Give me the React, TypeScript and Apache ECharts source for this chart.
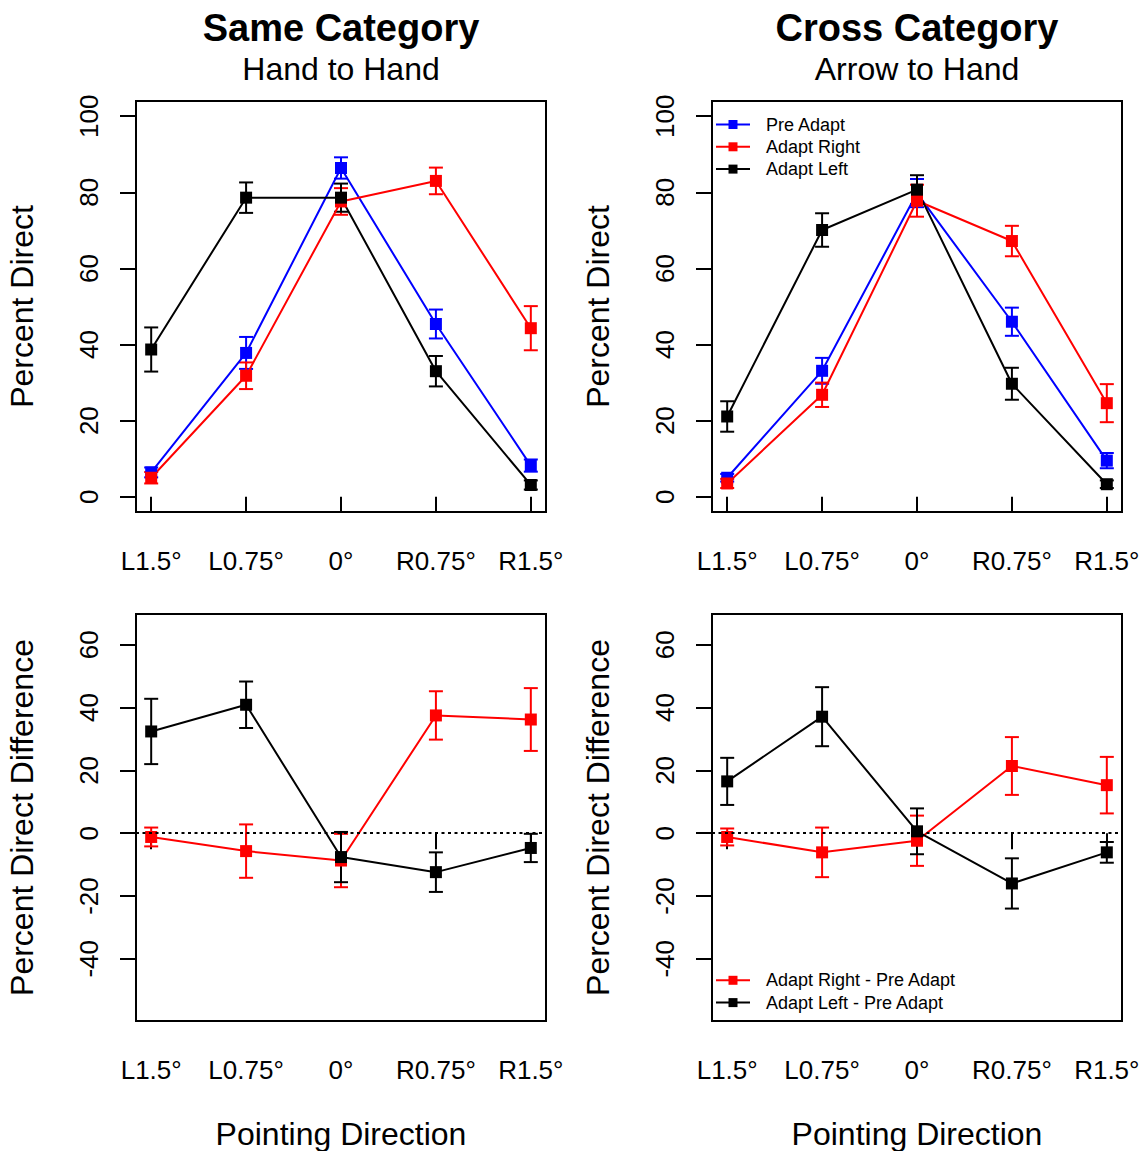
import React, { useEffect, useRef } from "react";
import * as echarts from "echarts";

const categories = ["L1.5°", "L0.75°", "0°", "R0.75°", "R1.5°"];
const xPositions = [1, 2, 3, 4, 5];
const topYTicks = [0, 20, 40, 60, 80, 100];
const bottomYTicks = [-40, -20, 0, 20, 40, 60];

// Same Category (Hand to Hand) — percent direct
const samePre = [6.4, 37.8, 86.4, 45.4, 8.2];
const samePreErr = [1.3, 4.2, 2.8, 3.8, 1.6];
const sameRight = [5.0, 31.8, 77.6, 83.0, 44.3];
const sameRightErr = [1.5, 3.5, 3.5, 3.5, 5.8];
const sameLeft = [38.7, 78.6, 78.6, 33.0, 3.1];
const sameLeftErr = [5.8, 4.0, 3.7, 4.0, 1.2];

// Cross Category (Arrow to Hand) — percent direct
const crossPre = [5.0, 33.1, 79.8, 46.0, 9.5];
const crossPreErr = [1.0, 3.4, 3.7, 3.7, 2.0];
const crossRight = [3.5, 26.8, 77.8, 67.2, 24.6];
const crossRightErr = [1.2, 3.2, 4.2, 4.0, 5.0];
const crossLeft = [21.1, 70.1, 80.7, 29.7, 3.3];
const crossLeftErr = [4.0, 4.4, 3.8, 4.2, 1.0];

// Differences
const sameDiffRight = [-1.2, -5.7, -8.7, 37.5, 36.2];
const sameDiffRightErr = [3.0, 8.5, 8.5, 7.7, 10.0];
const sameDiffLeft = [32.4, 40.9, -7.6, -12.4, -4.7];
const sameDiffLeftErr = [10.4, 7.4, 8.0, 6.3, 4.5];
const crossDiffRight = [-1.2, -6.1, -2.4, 21.4, 15.3];
const crossDiffRightErr = [2.7, 7.9, 8.0, 9.2, 9.0];
const crossDiffLeft = [16.5, 37.1, 0.6, -16.0, -6.1];
const crossDiffLeftErr = [7.5, 9.4, 7.3, 8.0, 3.3];

const BLUE = "#0000FF";
const RED = "#FF0000";
const BLACK = "#000000";
const FONT = "Arial, 'Liberation Sans', Helvetica, sans-serif";

const ptData = (vals: number[]) => xPositions.map((x, i) => [x, vals[i]]);
const errData = (vals: number[], errs: number[]) =>
  xPositions.map((x, i) => [x, vals[i] - errs[i], vals[i] + errs[i]]);

function lineSeries(name: string, vals: number[], color: string, gi: number, extra: any = {}) {
  return {
    type: "line",
    name,
    xAxisIndex: gi,
    yAxisIndex: gi,
    data: ptData(vals),
    symbol: "rect",
    symbolSize: 12,
    showSymbol: true,
    lineStyle: { color, width: 2 },
    itemStyle: { color },
    silent: true,
    ...extra,
  };
}

function errSeries(name: string, vals: number[], errs: number[], color: string, gi: number) {
  return {
    type: "custom",
    name,
    xAxisIndex: gi,
    yAxisIndex: gi,
    data: errData(vals, errs),
    silent: true,
    renderItem: (_params: any, api: any) => {
      const x = api.value(0);
      const lo = api.coord([x, api.value(1)]);
      const hi = api.coord([x, api.value(2)]);
      const w = 7;
      const style = { stroke: color, lineWidth: 2 };
      return {
        type: "group",
        children: [
          { type: "line", shape: { x1: lo[0], y1: lo[1], x2: hi[0], y2: hi[1] }, style },
          { type: "line", shape: { x1: lo[0] - w, y1: lo[1], x2: lo[0] + w, y2: lo[1] }, style },
          { type: "line", shape: { x1: hi[0] - w, y1: hi[1], x2: hi[0] + w, y2: hi[1] }, style },
        ],
      };
    },
  };
}

const grids = [
  { left: 136, top: 101, width: 410, height: 411 },
  { left: 712, top: 101, width: 410, height: 411 },
  { left: 136, top: 614, width: 410, height: 410 },
  { left: 712, top: 614, width: 410, height: 410 },
];

function xAxis(gi: number, withName: boolean) {
  return {
    type: "value",
    gridIndex: gi,
    min: 0.84,
    max: 5.16,
    axisLine: { show: false },
    splitLine: { show: false },
    axisTick: {
      show: true,
      inside: false,
      length: 16,
      customValues: xPositions,
      lineStyle: { color: BLACK, width: 2 },
    },
    axisLabel: {
      show: true,
      customValues: xPositions,
      margin: 36,
      color: BLACK,
      fontSize: 26,
      fontFamily: FONT,
      formatter: (v: number) => categories[Math.round(v) - 1] ?? "",
    },
    name: withName ? "Pointing Direction" : "",
    nameLocation: "middle",
    nameGap: 97,
    nameTextStyle: { color: BLACK, fontSize: 32, fontFamily: FONT },
  };
}

function yAxis(gi: number, top: boolean) {
  return {
    type: "value",
    gridIndex: gi,
    min: top ? -4 : -59.8,
    max: top ? 104 : 69.8,
    axisLine: { show: false },
    splitLine: { show: false },
    axisTick: {
      show: true,
      inside: false,
      length: 16,
      customValues: top ? topYTicks : bottomYTicks,
      lineStyle: { color: BLACK, width: 2 },
    },
    axisLabel: {
      show: true,
      customValues: top ? topYTicks : bottomYTicks,
      rotate: 90,
      margin: 34,
      color: BLACK,
      fontSize: 26,
      fontFamily: FONT,
    },
    name: top ? "Percent Direct" : "Percent Direct Difference",
    nameLocation: "middle",
    nameGap: 98,
    nameTextStyle: { color: BLACK, fontSize: 32, fontFamily: FONT },
  };
}

const zeroLine = {
  markLine: {
    silent: true,
    symbol: "none",
    label: { show: false },
    lineStyle: { color: BLACK, type: [3, 3.5], width: 2 },
    data: [{ yAxis: 0 }],
  },
};

function legendGraphics(items: { label: string; color: string }[], y0: number) {
  const out: any[] = [];
  items.forEach((it, i) => {
    const y = y0 + i * 22.3;
    out.push({
      type: "line",
      shape: { x1: 716, y1: y, x2: 750, y2: y },
      style: { stroke: it.color, lineWidth: 2 },
      z: 100,
    });
    out.push({
      type: "rect",
      shape: { x: 728.5, y: y - 4.5, width: 9, height: 9 },
      style: { fill: it.color },
      z: 100,
    });
    out.push({
      type: "text",
      x: 766,
      y,
      style: {
        text: it.label,
        fill: BLACK,
        font: `18px ${FONT}`,
        textAlign: "left",
        textVerticalAlign: "middle",
      },
      z: 100,
    });
  });
  return out;
}

const titleGraphics = [
  { text: "Same Category", x: 341, y: 28, bold: true },
  { text: "Hand to Hand", x: 341, y: 69, bold: false },
  { text: "Cross Category", x: 917, y: 28, bold: true },
  { text: "Arrow to Hand", x: 917, y: 69, bold: false },
].map((t) => ({
  type: "text",
  x: t.x,
  y: t.y,
  style: {
    text: t.text,
    fill: BLACK,
    font: `${t.bold ? "bold 38px" : "32px"} ${FONT}`,
    textAlign: "center",
    textVerticalAlign: "middle",
  },
}));

export default function App() {
  const ref = useRef<HTMLDivElement>(null);
  useEffect(() => {
    if (!ref.current) return;
    const chart = echarts.init(ref.current, undefined, { renderer: "svg" });
    const option: any = {
      animation: false,
      backgroundColor: "#ffffff",
      grid: grids.map((g) => ({
        ...g,
        show: true,
        borderColor: BLACK,
        borderWidth: 2,
        backgroundColor: "transparent",
        containLabel: false,
      })),
      xAxis: [xAxis(0, false), xAxis(1, false), xAxis(2, true), xAxis(3, true)],
      yAxis: [yAxis(0, true), yAxis(1, true), yAxis(2, false), yAxis(3, false)],
      series: [
        lineSeries("Pre Adapt", samePre, BLUE, 0),
        errSeries("Pre Adapt", samePre, samePreErr, BLUE, 0),
        lineSeries("Adapt Right", sameRight, RED, 0),
        errSeries("Adapt Right", sameRight, sameRightErr, RED, 0),
        lineSeries("Adapt Left", sameLeft, BLACK, 0),
        errSeries("Adapt Left", sameLeft, sameLeftErr, BLACK, 0),

        lineSeries("Pre Adapt", crossPre, BLUE, 1),
        errSeries("Pre Adapt", crossPre, crossPreErr, BLUE, 1),
        lineSeries("Adapt Right", crossRight, RED, 1),
        errSeries("Adapt Right", crossRight, crossRightErr, RED, 1),
        lineSeries("Adapt Left", crossLeft, BLACK, 1),
        errSeries("Adapt Left", crossLeft, crossLeftErr, BLACK, 1),

        lineSeries("Adapt Right - Pre Adapt", sameDiffRight, RED, 2, zeroLine),
        errSeries("Adapt Right - Pre Adapt", sameDiffRight, sameDiffRightErr, RED, 2),
        lineSeries("Adapt Left - Pre Adapt", sameDiffLeft, BLACK, 2),
        errSeries("Adapt Left - Pre Adapt", sameDiffLeft, sameDiffLeftErr, BLACK, 2),

        lineSeries("Adapt Right - Pre Adapt", crossDiffRight, RED, 3, zeroLine),
        errSeries("Adapt Right - Pre Adapt", crossDiffRight, crossDiffRightErr, RED, 3),
        lineSeries("Adapt Left - Pre Adapt", crossDiffLeft, BLACK, 3),
        errSeries("Adapt Left - Pre Adapt", crossDiffLeft, crossDiffLeftErr, BLACK, 3),
      ],
      graphic: [
        ...titleGraphics,
        ...legendGraphics(
          [
            { label: "Pre Adapt", color: BLUE },
            { label: "Adapt Right", color: RED },
            { label: "Adapt Left", color: BLACK },
          ],
          124.5
        ),
        ...legendGraphics(
          [
            { label: "Adapt Right - Pre Adapt", color: RED },
            { label: "Adapt Left - Pre Adapt", color: BLACK },
          ],
          980.3
        ),
      ],
    };
    chart.setOption(option);
    return () => chart.dispose();
  }, []);
  return (
    <div
      ref={ref}
      style={{ position: "fixed", left: 0, top: 0, width: 1143, height: 1151, background: "#fff" }}
    />
  );
}
